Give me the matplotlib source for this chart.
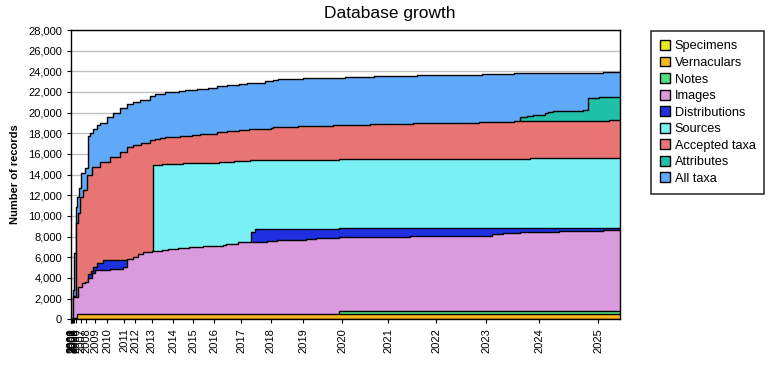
import matplotlib
matplotlib.use("Agg")
import matplotlib.pyplot as plt
from matplotlib.patches import Patch

plt.rcParams['font.family'] = ['Liberation Sans', 'DejaVu Sans']

# === Data (x = update index along the timeline) ===
x_end = 549

year_labels = [str(y) for y in range(2000, 2026)]
year_pos = [0, 0.5, 1, 1.5, 2.5, 3.5, 5, 10, 15, 24, 36.5, 53.5, 64, 80.7,
            102.3, 122.3, 143.3, 170.3, 199.7, 232.3, 271, 317, 365, 415, 468, 527]

x_specimens = [0, 3]
v_specimens = [0, 30]

x_vernaculars = [0, 1.7, 6]
v_vernaculars = [0, 150, 500]

x_notes = [0, 268]
v_notes = [0, 760]

x_images = [0, 2, 7.3, 10.7, 14, 17.3, 20.7, 24, 39, 52.3, 56.3, 62.3, 67.3, 72.3, 81.3,
            90.7, 96.7, 107.3, 118.3, 132.3, 151.7, 155, 167.3, 180, 195.7, 205.7, 235,
            245, 268, 300, 339, 421, 432, 449, 488, 532]
v_images = [0, 2190, 3150, 3480, 3640, 3970, 4450, 4770, 4840, 5030, 5800, 6060, 6290, 6480,
            6580, 6680, 6770, 6870, 7000, 7090, 7220, 7290, 7450, 7510, 7580, 7680, 7740,
            7840, 7930, 8000, 8060, 8220, 8320, 8450, 8520, 8640]

x_distributions = [0, 17.3, 19.7, 22.3, 25.7, 32.3, 180, 184, 268.3]
v_distributions = [0, 4350, 4700, 5090, 5420, 5740, 8420, 8710, 8810]

x_sources = [0, 81.7, 90.7, 112.3, 148.3, 163.3, 179, 268.3, 459]
v_sources = [0, 14900, 15000, 15100, 15190, 15290, 15390, 15490, 15580]

x_accepted = [0, 1.7, 3, 5, 7.3, 9, 12.3, 16.3, 20.7, 29, 39, 49, 55.7, 62, 70, 79, 84, 89,
              94, 109, 120.7, 129, 145.7, 155.7, 168.3, 178.3, 199.7, 202.3, 227.3, 262.3,
              299, 342.3, 408, 443, 538.3]
v_accepted = [0, 2190, 2200, 9290, 10260, 11870, 12510, 13970, 14770, 15250, 15740, 16220,
              16700, 16870, 17100, 17320, 17420, 17520, 17610, 17710, 17810, 17900, 18100,
              18200, 18290, 18390, 18490, 18580, 18680, 18780, 18870, 18970, 19050, 19150,
              19270]

x_attributes = [0, 449, 455.7, 462.3, 474, 477.3, 482.3, 511.7, 517.3, 528.3]
v_attributes = [0, 19550, 19670, 19770, 19930, 20060, 20160, 20260, 21390, 21490]

x_alltaxa = [0, 1.7, 2.3, 3, 4.7, 6.3, 8.3, 10, 14, 17.3, 19, 22.3, 26, 29, 35.7, 42.3,
             49, 55.7, 62, 69, 79, 84, 94, 108.3, 114, 126.3, 137.3, 145.7, 156.3, 168.3,
             175.7, 194, 201.7, 207.3, 232.3, 274, 303, 346.3, 410.7, 443.3, 532.3]
v_alltaxa = [0, 250, 2840, 6390, 10900, 11870, 12680, 14130, 14610, 17700, 18000, 18400,
             18800, 19000, 19610, 19940, 20420, 20840, 21000, 21200, 21610, 21780, 21970,
             22070, 22160, 22260, 22360, 22550, 22650, 22740, 22900, 23030, 23130, 23230,
             23320, 23430, 23520, 23610, 23710, 23810, 23910]

# drawn back to front
series = [
    ('All taxa', x_alltaxa, v_alltaxa, '#60a8f8'),
    ('Attributes', x_attributes, v_attributes, '#20bfa8'),
    ('Accepted taxa', x_accepted, v_accepted, '#e87474'),
    ('Sources', x_sources, v_sources, '#78f0f4'),
    ('Distributions', x_distributions, v_distributions, '#2030e0'),
    ('Images', x_images, v_images, '#da9ade'),
    ('Notes', x_notes, v_notes, '#50e080'),
    ('Vernaculars', x_vernaculars, v_vernaculars, '#f8b820'),
    ('Specimens', x_specimens, v_specimens, '#e8e820'),
]

fig = plt.figure(figsize=(7.8, 3.8), dpi=100)
ax = fig.add_axes([0.091, 0.160, 0.704, 0.761])

for i, (name, xs, vs, col) in enumerate(series):
    xs = list(xs) + [x_end]
    vs = list(vs) + [vs[-1]]
    z = 2 + 2 * i
    ax.fill_between(xs, vs, 0, step='post', color=col, linewidth=0, zorder=z)
    ax.step(xs, vs, where='post', color='black', linewidth=1.0, zorder=z + 1)

ax.set_xlim(0, x_end)
ax.set_ylim(0, 28000)
ax.set_yticks(range(0, 28001, 2000))
ax.set_yticklabels([f'{v:,}' for v in range(0, 28001, 2000)], fontsize=8)
ax.yaxis.grid(True, color='#c0c0c0', linewidth=1, zorder=0)
ax.set_axisbelow(True)
ax.set_xticks(year_pos)
ax.set_xticklabels(year_labels, rotation=90, fontsize=8)
ax.tick_params(axis='both', length=3, color='black')
ax.set_ylabel('Number of records', fontsize=8, fontweight='bold', labelpad=6)
for s in ax.spines.values():
    s.set_linewidth(1.0)
    s.set_zorder(50)

fig.suptitle('Database growth', fontsize=12.5, x=0.5, y=0.985)

legend_order = ['Specimens', 'Vernaculars', 'Notes', 'Images', 'Distributions',
                'Sources', 'Accepted taxa', 'Attributes', 'All taxa']
cols = {name: col for name, _, _, col in series}
handles = [Patch(facecolor=cols[n], edgecolor='black', linewidth=1, label=n) for n in legend_order]
leg = fig.legend(handles=handles, loc='upper left', bbox_to_anchor=(0.8346, 0.918),
                 fontsize=9.2, frameon=True, fancybox=False, borderpad=0.7,
                 handlelength=0.8, handleheight=0.8, handletextpad=0.35, labelspacing=0.33,
                 borderaxespad=0)
leg.get_frame().set_edgecolor('black')
leg.get_frame().set_linewidth(1.2)

fig.savefig('out.png', dpi=100)
